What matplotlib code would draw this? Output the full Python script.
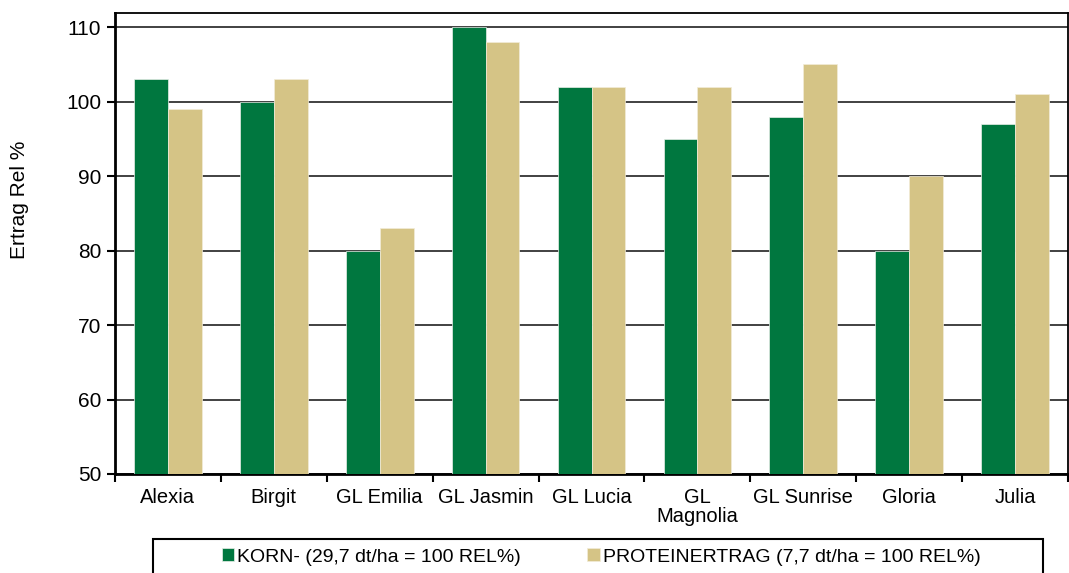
import matplotlib.pyplot as plt
import matplotlib.patches as mpatches
import numpy as np

plt.rcParams["font.family"] = ["Liberation Sans", "DejaVu Sans"]

sorten = ["Alexia", "Birgit", "GL Emilia", "GL Jasmin", "GL Lucia",
          "GL\nMagnolia", "GL Sunrise", "Gloria", "Julia"]
korn = [103, 100, 80, 110, 102, 95, 98, 80, 97]
protein = [99, 103, 83, 108, 102, 102, 105, 90, 101]

label_korn = "KORN- (29,7 dt/ha = 100 REL%)"
label_protein = "PROTEINERTRAG (7,7 dt/ha = 100 REL%)"

green = "#00773F"
tan = "#D5C486"

fig = plt.figure(figsize=(10.69, 5.73), dpi=100)
ax = fig.add_axes([115 / 1069, 1 - 474 / 573, (1068 - 115) / 1069, (474 - 13) / 573])

x = np.arange(len(sorten))
w = 0.32
ax.bar(x - w / 2, korn, w, color=green, edgecolor="#e8efe8", linewidth=0.5,
       label=label_korn, zorder=3)
ax.bar(x + w / 2, protein, w, color=tan, edgecolor="#f2ecd8", linewidth=0.5,
       label=label_protein, zorder=3)

ax.set_xlim(-0.5, len(sorten) - 0.5)
ax.set_ylim(50, 111.9)
ax.set_yticks(range(50, 111, 10))
ax.yaxis.grid(True, color="#333333", linewidth=1.3, zorder=1)

ax.set_xticks(x)
ax.set_xticklabels(sorten, fontsize=14.5, linespacing=1.0)
ax.set_xticks(np.arange(len(sorten) + 1) - 0.5, minor=True)
ax.tick_params(axis="x", which="major", length=0, pad=10)
ax.tick_params(axis="x", which="minor", length=6, width=1.5, direction="out")
ax.tick_params(axis="y", labelsize=15, length=6, width=1.5, direction="out", pad=4)

for side in ["left", "bottom"]:
    ax.spines[side].set_linewidth(2)
for side in ["top", "right"]:
    ax.spines[side].set_linewidth(1.3)

fig.text(20 / 1069, 1 - 200 / 573, "Ertrag Rel %", rotation=90,
         fontsize=15, ha="center", va="center")

# legend box (cut off at the bottom like the original)
fig.patches.append(mpatches.Rectangle((153 / 1069, -0.05), (1043 - 153) / 1069,
                                      0.05 + 1 - 539 / 573, transform=fig.transFigure,
                                      fill=False, edgecolor="black", linewidth=1.5))
fig.legend(loc="center", bbox_to_anchor=(601 / 1069, 1 - 557 / 573), ncol=2,
           frameon=False, fontsize=14, handlelength=0.65, handleheight=0.65,
           handletextpad=0.15, columnspacing=3.4, borderaxespad=0)

fig.savefig("out.png", dpi=100)
